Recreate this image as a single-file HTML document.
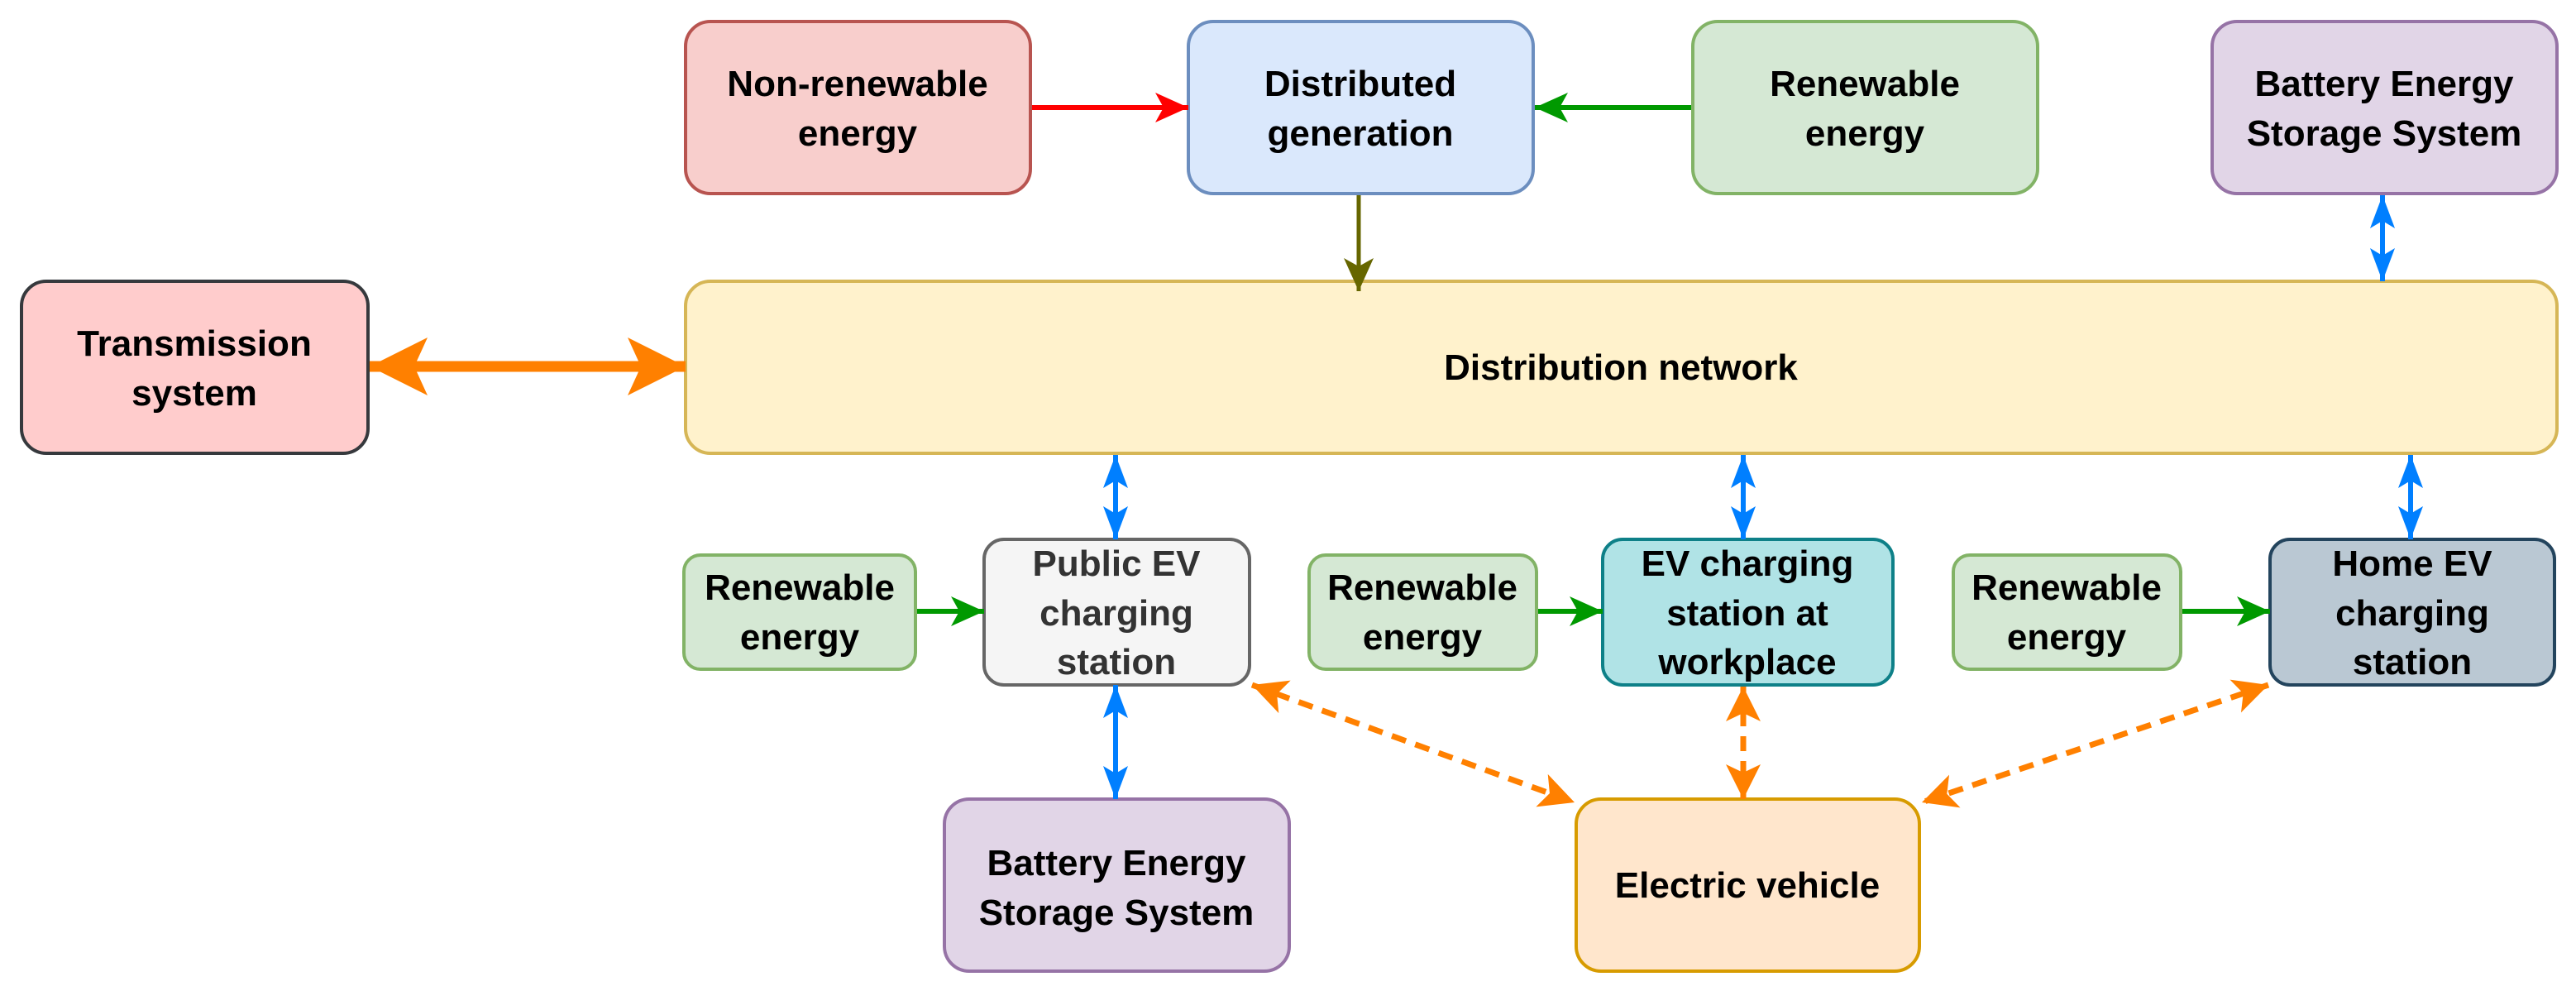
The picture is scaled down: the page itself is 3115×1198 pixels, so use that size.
<!DOCTYPE html>
<html><head><meta charset="utf-8"><style>html,body{margin:0;padding:0;background:#fff}svg{display:block}text{font-family:"Liberation Sans",Arial,sans-serif;font-weight:bold;font-size:44px;text-anchor:middle}</style></head>
<body>
<svg width="3115" height="1198" viewBox="0 0 3115 1198" xmlns="http://www.w3.org/2000/svg">
<defs>
<marker id="red" markerUnits="userSpaceOnUse" markerWidth="50" markerHeight="50" refX="40" refY="20" orient="auto"><path d="M0,2 L40,20 L0,38 L10,20 Z" fill="#ff0000"/></marker>
<marker id="grn" markerUnits="userSpaceOnUse" markerWidth="50" markerHeight="50" refX="40" refY="20" orient="auto"><path d="M0,2 L40,20 L0,38 L10,20 Z" fill="#009900"/></marker>
<marker id="olv" markerUnits="userSpaceOnUse" markerWidth="50" markerHeight="50" refX="40" refY="20" orient="auto"><path d="M0,2 L40,20 L0,38 L10,20 Z" fill="#666600"/></marker>
<marker id="blu" markerUnits="userSpaceOnUse" markerWidth="50" markerHeight="50" refX="40" refY="20" orient="auto-start-reverse"><path d="M0,5 L40,20 L0,35 L9,20 Z" fill="#007fff"/></marker>
<marker id="org" markerUnits="userSpaceOnUse" markerWidth="80" markerHeight="80" refX="70" refY="35" orient="auto-start-reverse"><path d="M0,0 L70,35 L0,70 L16,35 Z" fill="#ff8000"/></marker>
<marker id="orgs" markerUnits="userSpaceOnUse" markerWidth="50" markerHeight="50" refX="42" refY="21" orient="auto-start-reverse"><path d="M0,0 L42,21 L0,42 L10,21 Z" fill="#ff8000"/></marker>
</defs>
<g stroke-width="4">
<rect x="829" y="26" width="417" height="208" rx="30" fill="#f8cecc" stroke="#b85450"/>
<rect x="1437" y="26" width="417" height="208" rx="30" fill="#dae8fc" stroke="#6c8ebf"/>
<rect x="2047" y="26" width="417" height="208" rx="30" fill="#d5e8d4" stroke="#82b366"/>
<rect x="2675" y="26" width="417" height="208" rx="30" fill="#e1d5e7" stroke="#9673a6"/>
<rect x="26" y="340" width="419" height="208" rx="30" fill="#ffcccc" stroke="#36393d"/>
<rect x="829" y="340" width="2263" height="208" rx="30" fill="#fff2cc" stroke="#d6b656"/>
<rect x="827" y="671" width="280" height="138" rx="20" fill="#d5e8d4" stroke="#82b366"/>
<rect x="1190" y="652" width="321" height="176" rx="24" fill="#f5f5f5" stroke="#666666"/>
<rect x="1583" y="671" width="275" height="138" rx="20" fill="#d5e8d4" stroke="#82b366"/>
<rect x="1938" y="652" width="351" height="176" rx="24" fill="#b0e3e6" stroke="#0e8088"/>
<rect x="2362" y="671" width="275" height="138" rx="20" fill="#d5e8d4" stroke="#82b366"/>
<rect x="2745" y="652" width="344" height="176" rx="24" fill="#bac8d3" stroke="#23445d"/>
<rect x="1142" y="966" width="417" height="208" rx="30" fill="#e1d5e7" stroke="#9673a6"/>
<rect x="1906" y="966" width="415" height="208" rx="30" fill="#ffe6cc" stroke="#d79b00"/>
</g>
<g fill="none">
<line x1="1248" y1="130" x2="1437" y2="130" stroke="#ff0000" stroke-width="6" marker-end="url(#red)"/>
<line x1="2045" y1="130" x2="1856" y2="130" stroke="#009900" stroke-width="6" marker-end="url(#grn)"/>
<line x1="1643" y1="236" x2="1643" y2="352" stroke="#666600" stroke-width="5" marker-end="url(#olv)"/>
<line x1="2881" y1="236" x2="2881" y2="340" stroke="#007fff" stroke-width="6" marker-start="url(#blu)" marker-end="url(#blu)"/>
<line x1="447" y1="443" x2="829" y2="443" stroke="#ff8000" stroke-width="13" marker-start="url(#org)" marker-end="url(#org)"/>
<line x1="1349" y1="550" x2="1349" y2="652" stroke="#007fff" stroke-width="6" marker-start="url(#blu)" marker-end="url(#blu)"/>
<line x1="2108" y1="550" x2="2108" y2="652" stroke="#007fff" stroke-width="6" marker-start="url(#blu)" marker-end="url(#blu)"/>
<line x1="2915" y1="550" x2="2915" y2="652" stroke="#007fff" stroke-width="6" marker-start="url(#blu)" marker-end="url(#blu)"/>
<line x1="1349" y1="828" x2="1349" y2="966" stroke="#007fff" stroke-width="6" marker-start="url(#blu)" marker-end="url(#blu)"/>
<line x1="1109" y1="739" x2="1190" y2="739" stroke="#009900" stroke-width="6" marker-end="url(#grn)"/>
<line x1="1860" y1="739" x2="1938" y2="739" stroke="#009900" stroke-width="6" marker-end="url(#grn)"/>
<line x1="2639" y1="739" x2="2745" y2="739" stroke="#009900" stroke-width="6" marker-end="url(#grn)"/>
<line x1="1514" y1="828" x2="1904" y2="970" stroke="#ff8000" stroke-width="7" stroke-dasharray="18,12" marker-start="url(#orgs)" marker-end="url(#orgs)"/>
<line x1="2108" y1="830" x2="2108" y2="966" stroke="#ff8000" stroke-width="7" stroke-dasharray="18,12" marker-start="url(#orgs)" marker-end="url(#orgs)"/>
<line x1="2743" y1="828" x2="2324" y2="970" stroke="#ff8000" stroke-width="7" stroke-dasharray="18,12" marker-start="url(#orgs)" marker-end="url(#orgs)"/>
</g>
<text x="1037" y="116">Non-renewable</text><text x="1037" y="176">energy</text>
<text x="1645" y="116">Distributed</text><text x="1645" y="176">generation</text>
<text x="2255" y="116">Renewable</text><text x="2255" y="176">energy</text>
<text x="2883" y="116">Battery Energy</text><text x="2883" y="176">Storage System</text>
<text x="235" y="430">Transmission</text><text x="235" y="490">system</text>
<text x="1960" y="459">Distribution network</text>
<text x="967" y="725">Renewable</text><text x="967" y="785">energy</text>
<text x="1350" y="696" fill="#333">Public EV</text><text x="1350" y="756" fill="#333">charging</text><text x="1350" y="815" fill="#333">station</text>
<text x="1720" y="725">Renewable</text><text x="1720" y="785">energy</text>
<text x="2113" y="696">EV charging</text><text x="2113" y="756">station at</text><text x="2113" y="815">workplace</text>
<text x="2499" y="725">Renewable</text><text x="2499" y="785">energy</text>
<text x="2917" y="696">Home EV</text><text x="2917" y="756">charging</text><text x="2917" y="815">station</text>
<text x="1350" y="1058">Battery Energy</text><text x="1350" y="1118">Storage System</text>
<text x="2113" y="1085">Electric vehicle</text>
</svg>
</body></html>
